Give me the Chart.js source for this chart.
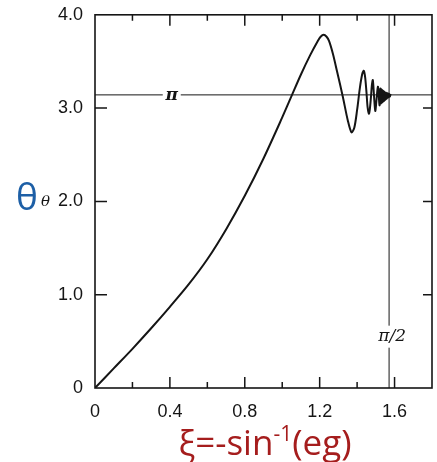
<!DOCTYPE html>
<html>
<head>
<meta charset="utf-8">
<script src="https://cdn.jsdelivr.net/npm/chart.js@4.4.1/dist/chart.umd.min.js"></script>
<style>
  html, body { margin: 0; padding: 0; background: #fff; }
  #wrap { width: 437px; height: 462px; }
</style>
</head>
<body>
<div id="wrap"><canvas id="chart-theta" width="437" height="462"></canvas></div>
<script>
// xi = -sin^-1(eg) values and theta along the curve
const xiValues = [
    0, 0.1, 0.2, 0.3, 0.4, 0.5, 0.6, 0.7, 0.8, 0.9, 1.0, 1.05, 1.1, 1.15, 1.19,
    1.205, 1.221, 1.237, 1.25, 1.271, 1.292, 1.324, 1.35, 1.37, 1.385, 1.4, 1.415, 1.428,
    1.436, 1.443, 1.45, 1.456, 1.463, 1.468, 1.474, 1.479, 1.484, 1.49, 1.497,
    1.504, 1.511, 1.516, 1.52,
    1.524, 1.527, 1.53, 1.533, 1.536, 1.539, 1.542, 1.545, 1.548, 1.551,
    1.554, 1.557, 1.56, 1.563, 1.566, 1.569, 1.572, 1.575, 1.578, 1.582,
];
const thetaValues = [
    0, 0.21, 0.42, 0.64, 0.87, 1.11, 1.38, 1.7, 2.06, 2.46, 2.9, 3.13, 3.36, 3.57, 3.72,
    3.765, 3.785, 3.765, 3.72, 3.58, 3.4, 3.12, 2.87, 2.74, 2.79, 2.98, 3.22, 3.37,
    3.4, 3.33, 3.17, 3.01, 2.94, 2.99, 3.12, 3.25, 3.3, 3.14, 2.97,
    3.1, 3.23, 3.12, 3.03,
    3.21, 3.05, 3.2, 3.06, 3.19, 3.07, 3.18, 3.08, 3.17, 3.09,
    3.165, 3.1, 3.16, 3.11, 3.155, 3.12, 3.15, 3.125, 3.14, 3.135,
];

// axis ticks (minor ticks get an empty label)
const xTickValues = [0, 0.2, 0.4, 0.6, 0.8, 1.0, 1.2, 1.4, 1.6, 1.8];
const xTickLabels = ["0", "", "0.4", "", "0.8", "", "1.2", "", "1.6", ""];
const yTickValues = [0, 1, 2, 3, 4];
const yTickLabels = ["0", "1.0", "2.0", "3.0", "4.0"];

// reference lines
const piLevel = Math.PI;
const halfPi = Math.PI / 2;

const ink = "#151515";

// frame, inward ticks, reference lines and titles
const framePlugin = {
    id: "frame",
    afterDraw(chart) {
        const { ctx, chartArea: a, scales } = chart;
        const xs = scales.x, ys = scales.y;
        ctx.save();
        ctx.strokeStyle = ink;
        ctx.lineWidth = 1.6;
        ctx.strokeRect(a.left, a.top, a.right - a.left, a.bottom - a.top);

        // x ticks on bottom and top edges
        ctx.lineWidth = 1.5;
        xTickValues.forEach((v, i) => {
            if (v === 0 || v >= 1.8) return;
            const px = xs.getPixelForValue(v);
            const len = xTickLabels[i] ? 11 : 6;
            ctx.beginPath();
            ctx.moveTo(px, a.bottom);
            ctx.lineTo(px, a.bottom - len);
            ctx.moveTo(px, a.top);
            ctx.lineTo(px, a.top + len);
            ctx.stroke();
        });
        // y ticks on left and right edges
        yTickValues.forEach((v) => {
            if (v === 0 || v === 4) return;
            const py = ys.getPixelForValue(v);
            ctx.beginPath();
            ctx.moveTo(a.left, py);
            ctx.lineTo(a.left + 12, py);
            ctx.moveTo(a.right, py);
            ctx.lineTo(a.right - 9, py);
            ctx.stroke();
        });

        // horizontal line at theta = pi, broken around its label
        ctx.lineWidth = 1;
        const piY = ys.getPixelForValue(piLevel);
        const piLabelX = xs.getPixelForValue(0.41);
        ctx.beginPath();
        ctx.moveTo(a.left, piY);
        ctx.lineTo(piLabelX - 9, piY);
        ctx.moveTo(piLabelX + 9, piY);
        ctx.lineTo(a.right, piY);
        ctx.stroke();

        // vertical line at xi = pi/2, broken around its label
        const hx = xs.getPixelForValue(halfPi);
        const hLabelY = ys.getPixelForValue(0.55);
        ctx.beginPath();
        ctx.moveTo(hx, a.top);
        ctx.lineTo(hx, hLabelY - 11);
        ctx.moveTo(hx, hLabelY + 11);
        ctx.lineTo(hx, a.bottom);
        ctx.stroke();

        ctx.fillStyle = ink;
        ctx.textAlign = "center";
        ctx.textBaseline = "middle";
        ctx.font = "italic bold 17px 'DejaVu Serif'";
        ctx.fillText("π", piLabelX, piY + 1);
        ctx.font = "italic 17px 'DejaVu Serif'";
        ctx.fillText("π/2", hx + 3, hLabelY);

        // y title
        ctx.textAlign = "left";
        ctx.textBaseline = "alphabetic";
        ctx.fillStyle = "#1d5fa6";
        ctx.font = "37px 'Open Sans'";
        ctx.fillText("θ", 16, 210);
        ctx.fillStyle = ink;
        ctx.font = "italic 15px 'DejaVu Serif'";
        ctx.fillText("θ", 41, 206);

        // x title with superscript
        ctx.fillStyle = "#a51d1d";
        const base = 455;
        ctx.font = "35px 'Open Sans'";
        const p1 = "ξ=-sin", p3 = "(eg)";
        const w1 = ctx.measureText(p1).width;
        const w3 = ctx.measureText(p3).width;
        ctx.font = "21px 'Open Sans'";
        const w2 = ctx.measureText("-1").width;
        let x = 265 - (w1 + w2 + w3) / 2;
        ctx.font = "35px 'Open Sans'";
        ctx.fillText(p1, x, base);
        x += w1;
        ctx.font = "21px 'Open Sans'";
        ctx.fillText("-1", x, base - 14);
        x += w2;
        ctx.font = "35px 'Open Sans'";
        ctx.fillText(p3, x, base);
        ctx.restore();
    },
};

function initThetaChart() {
    const canvas = document.getElementById("chart-theta");
    if (!canvas) return;

    const config = {
        type: "line",
        data: {
            datasets: [
                {
                    label: "theta",
                    data: xiValues.map((v, i) => ({ x: v, y: thetaValues[i] })),
                    borderColor: ink,
                    borderWidth: 2,
                    pointRadius: 0,
                    tension: 0.3,
                    fill: false,
                },
            ],
        },
        options: {
            responsive: false,
            animation: false,
            events: [],
            layout: { padding: { top: 14, right: 4, left: 0, bottom: 0 } },
            plugins: {
                legend: { display: false },
                tooltip: { enabled: false },
            },
            scales: {
                x: {
                    type: "linear",
                    min: 0,
                    max: 1.8,
                    afterBuildTicks: (s) => {
                        s.ticks = xTickValues.map((v) => ({ value: v }));
                    },
                    afterFit: (s) => {
                        s.height = 74;
                    },
                    ticks: {
                        autoSkip: false,
                        maxRotation: 0,
                        padding: 5,
                        color: ink,
                        font: { family: "'Liberation Sans'", size: 18 },
                        callback: (value, index) => xTickLabels[index],
                    },
                    grid: { display: false },
                    border: { display: false },
                },
                y: {
                    min: 0,
                    max: 4,
                    afterBuildTicks: (s) => {
                        s.ticks = yTickValues.map((v) => ({ value: v }));
                    },
                    afterFit: (s) => {
                        s.width = 95;
                    },
                    ticks: {
                        autoSkip: false,
                        padding: 4,
                        color: ink,
                        font: { family: "'Liberation Sans'", size: 18 },
                        callback: (value, index) => yTickLabels[index],
                    },
                    grid: { display: false },
                    border: { display: false },
                },
            },
        },
        plugins: [framePlugin],
    };

    canvas.chart = new Chart(canvas, config);
}

document.addEventListener("DOMContentLoaded", () => {
    initThetaChart();
});
</script>
</body>
</html>
